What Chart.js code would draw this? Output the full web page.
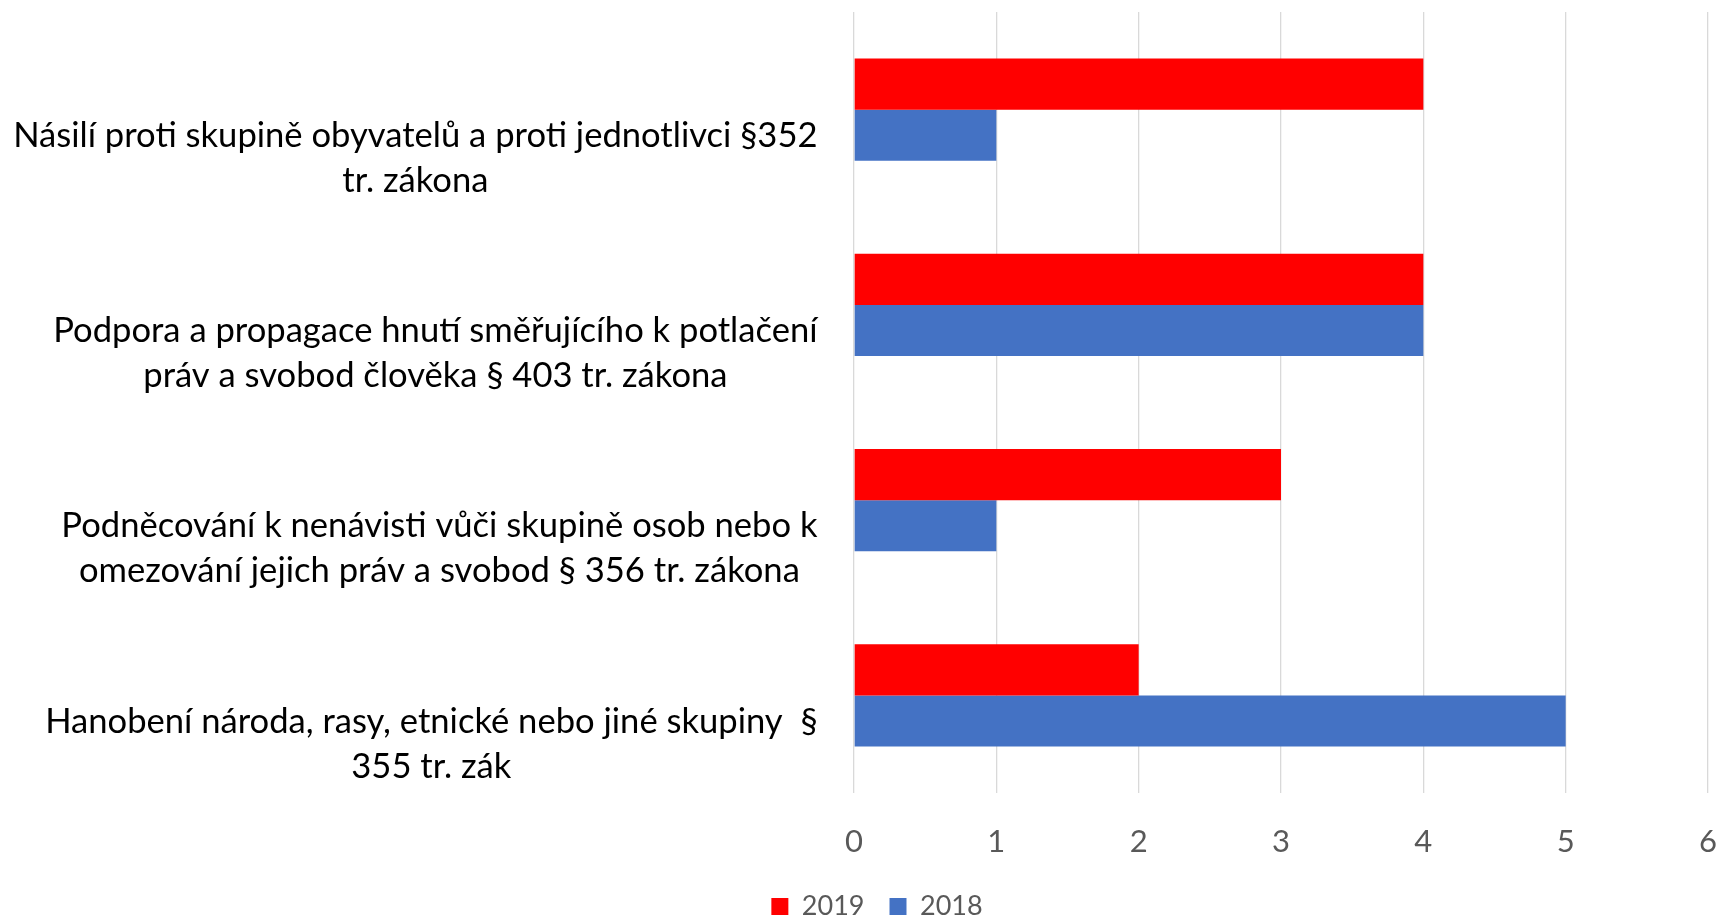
<!DOCTYPE html>
<html>
<head>
<meta charset="utf-8">
<script src="https://cdn.jsdelivr.net/npm/chart.js@4.4.1/dist/chart.umd.min.js"></script>
<style>
  html, body { margin: 0; padding: 0; background: #fff; overflow: hidden; }
  #wrap { width: 1723px; height: 919px; overflow: hidden; }
  canvas { display: block; }
</style>
</head>
<body>
<div id="wrap"><canvas id="c" width="1723" height="931"></canvas></div>
<script>
const categories = [
  ["Násilí proti skupině obyvatelů a proti jednotlivci §352", "tr. zákona"],
  ["Podpora a propagace hnutí směřujícího k potlačení", "práv a svobod člověka § 403 tr. zákona"],
  ["Podněcování k nenávisti vůči skupině osob nebo k", "omezování jejich práv a svobod § 356 tr. zákona"],
  ["Hanobení národa, rasy, etnické nebo jiné skupiny  §", "355 tr. zák"]
];
const series2019 = [4, 4, 3, 2];
const series2018 = [1, 4, 1, 5];
const seriesNames = ["2019", "2018"];
const xTicks = [0, 1, 2, 3, 4, 5, 6];

const FONT = "Lato, 'Noto Sans', sans-serif";

const categoryLabelPlugin = {
  id: 'categoryLabels',
  afterDraw(chart) {
    const ctx = chart.ctx;
    const y = chart.scales.y;
    const right = chart.chartArea.left - 36.5;
    ctx.save();
    ctx.font = "34.6px " + FONT;
    ctx.fillStyle = "#000000";
    ctx.textAlign = "center";
    ctx.textBaseline = "middle";
    categories.forEach((lines, i) => {
      const cy = y.getPixelForValue(i);
      const widest = Math.max(...lines.map(l => ctx.measureText(l).width));
      const cx = right - widest / 2;
      lines.forEach((line, j) => {
        ctx.fillText(line, cx, cy + 26 + 45 * j);
      });
    });
    ctx.restore();
  }
};

const legendShiftPlugin = {
  id: 'legendShift',
  afterLayout(chart) {
    if (chart.legend) {
      chart.legend.left += 23;
      chart.legend.right += 23;
    }
  }
};

new Chart(document.getElementById('c'), {
  type: 'bar',
  data: {
    labels: categories,
    datasets: [
      { label: seriesNames[0], data: series2019, backgroundColor: '#FF0000', borderWidth: 0 },
      { label: seriesNames[1], data: series2018, backgroundColor: '#4472C4', borderWidth: 0 }
    ]
  },
  options: {
    indexAxis: 'y',
    responsive: false,
    animation: false,
    devicePixelRatio: 1,
    categoryPercentage: 0.524,
    barPercentage: 1,
    layout: { padding: { top: 12, right: 15, left: 0, bottom: 1 } },
    scales: {
      y: {
        type: 'category',
        grid: { display: false },
        border: { display: false },
        ticks: { display: false },
        afterFit(scale) { scale.width = 854; }
      },
      x: {
        min: xTicks[0],
        max: xTicks[xTicks.length - 1],
        afterBuildTicks(scale) { scale.ticks = xTicks.map(v => ({ value: v })); },
        grid: { color: '#D9D9D9', lineWidth: 1.3, drawTicks: true, tickLength: 30, tickColor: 'rgba(0,0,0,0)' },
        border: { display: false },
        ticks: {
          color: '#595959',
          font: { family: FONT, size: 31 },
          padding: 0
        },
        afterFit(scale) { scale.height = 75; }
      }
    },
    plugins: {
      legend: {
        position: 'bottom',
        labels: {
          color: '#595959',
          font: { family: FONT, size: 27 },
          boxWidth: 17,
          boxHeight: 17,
          padding: 25
        }
      },
      tooltip: { enabled: false }
    }
  },
  plugins: [categoryLabelPlugin, legendShiftPlugin]
});
</script>
</body>
</html>
